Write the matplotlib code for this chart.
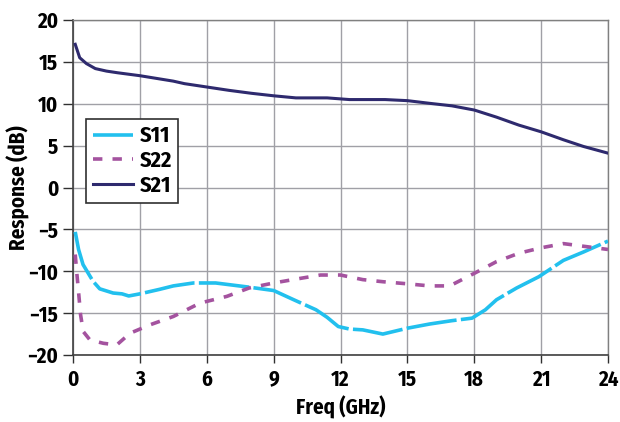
import matplotlib
matplotlib.use("Agg")
import matplotlib.pyplot as plt

plt.rcParams['font.family'] = ['Fira Sans Condensed', 'DejaVu Sans']
plt.rcParams['font.weight'] = 'bold'

s21_f = [0.1, 0.3, 0.6, 1.0, 1.5, 2.0, 3.0, 4.5, 5.0, 6.0, 7.0, 8.0, 9.0, 10.0, 11.4, 12.4, 13.0, 14.0, 15.0, 16.0, 17.0, 18.0, 19.0, 20.0, 21.0, 22.0, 22.9, 24.0]
s21_v = [17.1, 15.5, 14.8, 14.2, 13.9, 13.7, 13.35, 12.7, 12.4, 12.0, 11.6, 11.25, 10.95, 10.7, 10.7, 10.5, 10.5, 10.5, 10.37, 10.05, 9.75, 9.25, 8.4, 7.45, 6.65, 5.7, 4.9, 4.1]

s11_f = [0.1, 0.25, 0.45, 0.9, 1.2, 1.8, 2.2, 2.5, 3.0, 3.9, 4.5, 5.4, 6.4, 7.9, 9.0, 9.9, 10.9, 11.4, 11.9, 12.4, 13.0, 13.9, 15.0, 16.0, 17.0, 17.9, 18.5, 19.0, 19.9, 20.9, 22.0, 22.9, 24.0]
s11_v = [-5.3, -7.4, -9.2, -11.2, -12.1, -12.6, -12.7, -12.95, -12.7, -12.15, -11.75, -11.4, -11.4, -11.9, -12.3, -13.4, -14.6, -15.5, -16.6, -16.9, -17.0, -17.5, -16.8, -16.3, -15.9, -15.6, -14.6, -13.4, -12.0, -10.65, -8.7, -7.7, -6.4]

s22_f = [0.1, 0.17, 0.24, 0.34, 0.46, 0.76, 1.36, 1.96, 2.56, 3.45, 4.5, 5.7, 6.9, 7.9, 9.0, 10.2, 11.1, 12.0, 13.0, 13.9, 15.0, 16.0, 16.9, 18.0, 19.0, 20.0, 21.0, 22.0, 23.0, 24.0]
s22_v = [-8.0, -10.2, -12.2, -15.2, -17.2, -18.2, -18.6, -18.8, -17.4, -16.4, -15.4, -13.8, -13.0, -12.0, -11.4, -10.85, -10.45, -10.45, -11.0, -11.25, -11.5, -11.75, -11.75, -10.25, -8.85, -7.85, -7.2, -6.7, -7.05, -7.4]

x_ticks = [0, 3, 6, 9, 12, 15, 18, 21, 24]
y_ticks = [-20, -15, -10, -5, 0, 5, 10, 15, 20]

fig = plt.figure(figsize=(6.2, 4.22), dpi=100)
ax = fig.add_axes([73/620, 1 - 355/422, 535/620, 335/422])

l11, = ax.plot(s11_f, s11_v, color='#22c0ee', lw=2.6, dashes=(14, 1.2), label='S11', zorder=3)
l22, = ax.plot(s22_f, s22_v, color='#a4539f', lw=2.6, dashes=(2.6, 2.8), label='S22', zorder=3)
l21, = ax.plot(s21_f, s21_v, color='#2e2a6e', lw=2.2, label='S21', zorder=4)

ax.set_xlim(0, 24)
ax.set_ylim(-20, 20)
ax.set_xticks(x_ticks)
ax.set_yticks(y_ticks)
ax.grid(True, color='#a0a0a6', lw=1.0)
ax.set_axisbelow(True)
for s in ['top', 'right']:
    ax.spines[s].set_color('#808080')
    ax.spines[s].set_linewidth(1.0)
for s in ['left', 'bottom']:
    ax.spines[s].set_color('#404040')
    ax.spines[s].set_linewidth(1.2)
ax.tick_params(axis='y', direction='out', length=7.5, width=1.0, color='#303030', labelsize=15, pad=3)
ax.tick_params(axis='x', direction='out', length=6, width=1.0, color='#303030', labelsize=15, pad=4)
for lab in ax.get_xticklabels() + ax.get_yticklabels():
    lab.set_fontweight('bold')

ax.set_xlabel('Freq (GHz)', fontsize=15, fontweight='bold', labelpad=4)
ax.set_ylabel('Response (dB)', fontsize=15, fontweight='bold', labelpad=-2)

leg = ax.legend(handles=[l11, l22, l21], loc='upper left', bbox_to_anchor=(13/535, (355-119)/335),
                fancybox=False, framealpha=1, edgecolor='#303030', prop={'size': 16, 'weight': 'bold'},
                handlelength=1.8, borderpad=0.3, labelspacing=0.15, handletextpad=0.3, borderaxespad=0)
leg.get_frame().set_linewidth(1.2)

fig.savefig('out.png', dpi=100)
